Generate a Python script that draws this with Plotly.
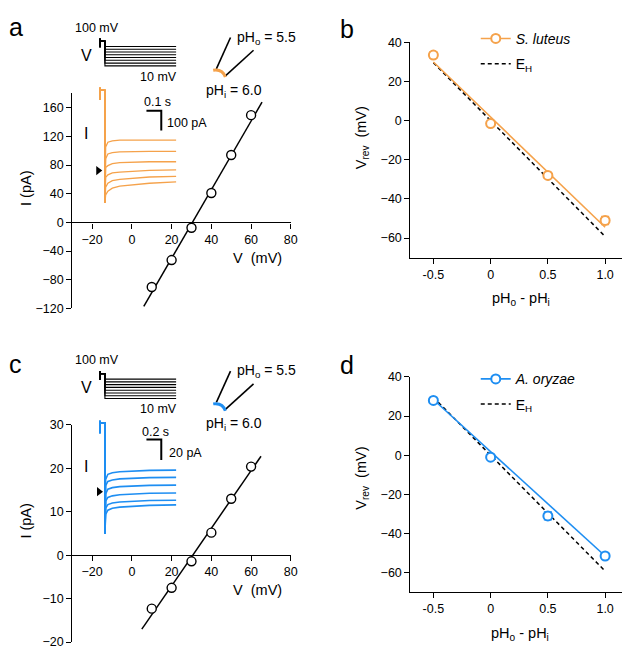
import plotly.graph_objects as go

W, H = 630, 646
ORANGE = '#F5A24B'
BLUE = '#1E8EF2'
FONT = 'Liberation Sans, Arial, sans-serif'

# ---------------- data ----------------
# I-V relations (panels a, c)
iv_V = [10, 20, 30, 40, 50, 60]
iv_a_I = [-90, -52.5, -7.5, 41, 94, 149.5]
fit_a_V = [6, 65.5]
fit_a_I = [-117, 167.5]
iv_c_I = [-12.3, -7.5, -1.4, 5.2, 13.0, 20.4]
fit_c_V = [5, 65]
fit_c_I = [-17, 22.8]

# Vrev vs pH gradient (panels b, d)
dpH = [-0.5, 0, 0.5, 1.0]
vrev_sl = [33.5, -1.5, -28, -51]
err_sl = [1.5, 1.0, 1.0, 2.0]
vrev_ao = [28, -1, -31, -51.5]
err_ao = [0.8, 0.8, 2.0, 1.5]
fit_x = [-0.5, 1.0]
fit_sl_y = [30, -54.5]
fit_ao_y = [28.5, -51.5]
eh_y = [29.6, -59.2]

# voltage protocol (schematic)
step_mV = [10, 20, 30, 40, 50, 60, 70, 80]
prepulse_mV = [77, 109, 100, 100]

# current traces, panel a (pA), one per test voltage 60..10 mV
pre_t_a = [-0.033, -0.033, -0.033, 0]
pre_I_a = [361, 425, 411, 411]
trace_t_a = [0, 0.005, 0.02, 0.05, 0.1, 0.2, 0.3, 0.48]
traces_a = [
    [-165, 120, 145, 152, 155, 155, 156, 156],
    [-165, 60, 85, 92, 95, 98, 98, 98],
    [-165, 15, 25, 35, 40, 43, 45, 45],
    [-165, -35, -22, -12, -8, -2, 1, 3],
    [-165, -85, -65, -52, -45, -38, -33, -30],
    [-165, -125, -105, -90, -80, -72, -65, -58],
]
# current traces, panel c (pA)
pre_t_c = [-0.067, -0.067, -0.067, 0]
pre_I_c = [57, 69, 67, 67]
trace_t_c = [0, 0.01, 0.04, 0.1, 0.2, 0.4, 0.6, 0.96]
traces_c = [
    [-41, 12, 17, 18.5, 19.5, 20.3, 20.8, 21],
    [-41, 6, 10, 11.5, 12.5, 13.3, 13.7, 14],
    [-41, -2, 2.5, 4, 5, 5.8, 6.2, 6.4],
    [-41, -9, -5.5, -4, -3, -2, -1.5, -1.3],
    [-41, -16, -12.5, -11, -10, -9, -8.6, -8.3],
    [-41, -22, -18, -16, -15, -14, -13.3, -12.8],
]
# scale bars: (time length s, current length pA)
scale_a = (0.1, 100)
scale_c = (0.2, 20)


def fx(p):
    return p / W


def fy(p):
    return 1 - p / H


fig = go.Figure()

# ---------- panel a / c : IV ----------
for ax, yax, fv, fi, ii in [('x', 'y', fit_a_V, fit_a_I, iv_a_I), ('x3', 'y3', fit_c_V, fit_c_I, iv_c_I)]:
    fig.add_trace(go.Scatter(x=fv, y=fi, mode='lines', line=dict(color='black', width=1.5),
                             xaxis=ax, yaxis=yax, showlegend=False, hoverinfo='skip'))
    fig.add_trace(go.Scatter(x=iv_V, y=ii, mode='markers',
                             marker=dict(symbol='circle', size=9, color='white', line=dict(color='black', width=1.4)),
                             xaxis=ax, yaxis=yax, showlegend=False))

# ---------- panel b / d ----------
for ax, yax, col, vr, er, fy_, name, leg in [
        ('x2', 'y2', ORANGE, vrev_sl, err_sl, fit_sl_y, '<i>S. luteus</i>', 'legend'),
        ('x4', 'y4', BLUE, vrev_ao, err_ao, fit_ao_y, '<i>A. oryzae</i>', 'legend2')]:
    fig.add_trace(go.Scatter(x=fit_x, y=eh_y, mode='lines', line=dict(color='black', width=1.5, dash='4px,3px'),
                             xaxis=ax, yaxis=yax, showlegend=False))
    fig.add_trace(go.Scatter(x=fit_x, y=fy_, mode='lines', line=dict(color=col, width=1.6),
                             xaxis=ax, yaxis=yax, showlegend=False))
    fig.add_trace(go.Scatter(x=dpH, y=vr, mode='markers',
                             error_y=dict(type='data', array=er, color=col, thickness=1.6, width=4),
                             marker=dict(symbol='circle', size=9, color='white', line=dict(color=col, width=2)),
                             xaxis=ax, yaxis=yax, showlegend=False))
    fig.add_trace(go.Scatter(x=[None], y=[None], mode='lines+markers', name=name,
                             line=dict(color=col, width=1.6), legendgroup=leg + 'a',
                             marker=dict(symbol='circle', size=9, color='white', line=dict(color=col, width=2)),
                             xaxis=ax, yaxis=yax, legend=leg))
    fig.add_trace(go.Scatter(x=[None], y=[None], mode='lines', name='E<sub>H</sub>', legendgroup=leg + 'b',
                             line=dict(color='black', width=1.5, dash='4px,3px'),
                             xaxis=ax, yaxis=yax, legend=leg))

# ---------- insets: current traces ----------
for ax, yax, col, pt, pi, tt, trs, sc, anchor, w in [
        ('x5', 'y5', ORANGE, pre_t_a, pre_I_a, trace_t_a, traces_a, scale_a, (0.38, 305), 1.3),
        ('x7', 'y7', BLUE, pre_t_c, pre_I_c, trace_t_c, traces_c, scale_c, (0.76, 50.8), 1.6)]:
    for tr in trs:
        fig.add_trace(go.Scatter(x=pt + tt, y=pi + tr, mode='lines', line=dict(color=col, width=w),
                                 xaxis=ax, yaxis=yax, showlegend=False, hoverinfo='skip'))
    t0, i0 = anchor
    fig.add_trace(go.Scatter(x=[t0 - sc[0], t0, t0], y=[i0, i0, i0 - sc[1]], mode='lines',
                             line=dict(color='black', width=2), xaxis=ax, yaxis=yax, showlegend=False))
    # zero-current arrowhead
    fig.add_trace(go.Scatter(x=[pt[0] - (0.012 if ax == 'x5' else 0.013)], y=[0], mode='markers',
                             marker=dict(symbol='triangle-right', size=8, color='black'),
                             xaxis=ax, yaxis=yax, showlegend=False))

# ---------- insets: voltage protocol ----------
for ax, yax, pt, tend in [('x6', 'y6', pre_t_a, trace_t_a[-1]), ('x8', 'y8', pre_t_c, trace_t_c[-1])]:
    for v in step_mV:
        fig.add_trace(go.Scatter(x=pt + [0, tend], y=prepulse_mV + [v, v], mode='lines',
                                 line=dict(color='black', width=1.1), xaxis=ax, yaxis=yax,
                                 showlegend=False, hoverinfo='skip'))

# ---------- axes ----------
base = dict(showline=True, linecolor='black', linewidth=1.3, ticks='outside', ticklen=5, tickwidth=1.3,
            tickcolor='black', showgrid=False, zeroline=False, tickfont=dict(size=12.5, color='black', family=FONT))
hidden = dict(visible=False, showgrid=False, zeroline=False)

legend_style = dict(xanchor='left', yanchor='top', bgcolor='rgba(0,0,0,0)', font=dict(size=14, family=FONT),
                    itemwidth=30, traceorder='grouped', tracegroupgap=4)

layout = dict(
    width=W, height=H, margin=dict(l=0, r=0, t=0, b=0),
    paper_bgcolor='white', plot_bgcolor='rgba(0,0,0,0)',
    font=dict(family=FONT, color='black', size=12.5),
    xaxis=dict(base, domain=[fx(65), fx(286)], range=[-30, 80], anchor='free', position=fy(212),
               tickvals=[-20, 0, 20, 40, 60, 80]),
    yaxis=dict(base, domain=[fy(300), fy(80)], range=[-120, 180], anchor='x',
               tickvals=[-120, -80, -40, 0, 40, 80, 120, 160]),
    xaxis2=dict(base, domain=[fx(407), fx(627)], range=[-0.7, 1.2], anchor='y2',
                tickvals=[-0.5, 0, 0.5, 1.0], ticktext=['-0.5', '0', '0.5', '1.0']),
    yaxis2=dict(base, domain=[fy(248), fy(28)], range=[-70, 40], anchor='x2',
                tickvals=[-60, -40, -20, 0, 20, 40]),
    xaxis3=dict(base, domain=[fx(65), fx(286)], range=[-30, 80], anchor='free', position=fy(552),
                tickvals=[-20, 0, 20, 40, 60, 80]),
    yaxis3=dict(base, domain=[fy(641), fy(419)], range=[-20, 30], anchor='x3',
                tickvals=[-20, -10, 0, 10, 20, 30]),
    xaxis4=dict(base, domain=[fx(407), fx(627)], range=[-0.7, 1.2], anchor='y4',
                tickvals=[-0.5, 0, 0.5, 1.0], ticktext=['-0.5', '0', '0.5', '1.0']),
    yaxis4=dict(base, domain=[fy(590), fy(370)], range=[-70, 40], anchor='x4',
                tickvals=[-60, -40, -20, 0, 20, 40]),
    xaxis5=dict(hidden, domain=[fx(85), fx(180)], range=[(85 - 98) / 150, (180 - 98) / 150], anchor='y5'),
    yaxis5=dict(hidden, domain=[fy(200), fy(70)], range=[(159 - 200) * 5, (159 - 70) * 5], anchor='x5'),
    xaxis6=dict(hidden, domain=[fx(85), fx(180)], range=[(85 - 98) / 150, (180 - 98) / 150], anchor='y6'),
    yaxis6=dict(hidden, domain=[fy(60), fy(15)], range=[-18.3, 140.7], anchor='x6'),
    xaxis7=dict(hidden, domain=[fx(85), fx(180)], range=[(85 - 98) / 75, (180 - 98) / 75], anchor='y7'),
    yaxis7=dict(hidden, domain=[fy(540), fy(405)], range=[(487.3 - 540) / 1.05, (487.3 - 405) / 1.05], anchor='x7'),
    xaxis8=dict(hidden, domain=[fx(85), fx(180)], range=[(85 - 98) / 75, (180 - 98) / 75], anchor='y8'),
    yaxis8=dict(hidden, domain=[fy(400), fy(355)], range=[-18.3, 140.7], anchor='x8'),
    legend=dict(legend_style, x=fx(473), y=fy(8)),
    legend2=dict(legend_style, x=fx(473), y=fy(356)),
)
fig.update_layout(**layout)

# ---------- text annotations ----------
def ann(text, px, py, size=14, xa='center', ya='middle', angle=0):
    fig.add_annotation(text=text, x=fx(px), y=fy(py), xref='paper', yref='paper', showarrow=False,
                       xanchor=xa, yanchor=ya, textangle=angle, font=dict(size=size, family=FONT, color='black'))

for lab, px, py in [('a', 8, 12), ('b', 343, 14), ('c', 8, 357), ('d', 343, 358)]:
    ann(lab, px, py, size=25)

for dy in (0, 340):
    ann('I (pA)', 18, 177 + dy, size=14.5, angle=-90)
    ann('V  (mV)', 252, 248 + dy, size=14.5)
    ann('100 mV', 90, 13 + dy, size=12.5)
    ann('V', 79, 41 + dy, size=16)
    ann('10 mV', 152, 63 + dy, size=12.5)
    ann('I', 79, 121 + dy, size=16)
    ann('pH<sub>o</sub> = 5.5', 230, 24 + dy, size=14, xa='left')
    ann('pH<sub>i</sub> = 6.0', 198, 78 + dy, size=14, xa='left')

ann('0.1 s', 151, 89, size=12.5)
ann('100 pA', 159, 110, size=12.5, xa='left')
ann('0.2 s', 149, 426, size=12.5)
ann('20 pA', 161, 448, size=12.5, xa='left')

ann('V<sub>rev</sub>  (mV)', 358, 126, size=14.5, angle=-90)
ann('V<sub>rev</sub>  (mV)', 358, 474, size=14.5, angle=-90)
ann('pH<sub>o</sub> - pH<sub>i</sub>', 519, 290, size=14.5)
ann('pH<sub>o</sub> - pH<sub>i</sub>', 518, 633, size=14.5)

# ---------- pipette schematics ----------
for dy, col in ((0, ORANGE), (341, BLUE)):
    for (x0, y0, x1, y1) in [(210.7, 55, 225, 23), (219.3, 62.7, 248.3, 36)]:
        fig.add_shape(type='line', xref='paper', yref='paper', x0=fx(x0), y0=fy(y0 + dy), x1=fx(x1), y1=fy(y1 + dy),
                      line=dict(color='black', width=1.6))
    path = 'M {:.5f} {:.5f} Q {:.5f} {:.5f} {:.5f} {:.5f}'.format(
        fx(207.5), fy(56.5 + dy), fx(217), fy(55 + dy), fx(219.8), fy(63.5 + dy))
    fig.add_shape(type='path', xref='paper', yref='paper', path=path, line=dict(color=col, width=3))

fig.write_html('out.html', config={'displayModeBar': False})
